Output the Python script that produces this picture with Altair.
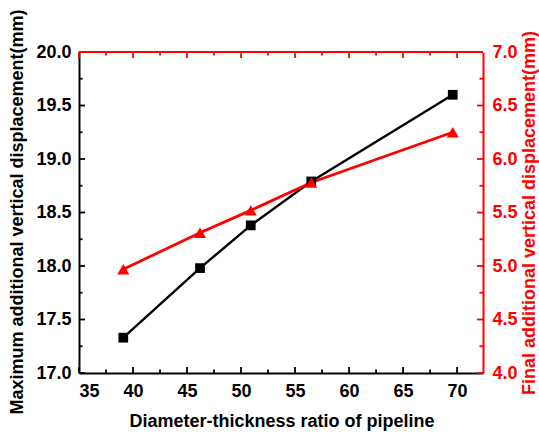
import altair as alt
import pandas as pd

# ---- data ----
ratio = [39.1, 46.2, 50.9, 56.5, 69.6]
max_disp = [17.33, 17.98, 18.38, 18.79, 19.60]
final_disp = [4.97, 5.31, 5.52, 5.78, 6.25]

x_major = [35, 40, 45, 50, 55, 60, 65, 70]
x_minor = [37.5, 42.5, 47.5, 52.5, 57.5, 62.5, 67.5]
left_major = [17.0, 17.5, 18.0, 18.5, 19.0, 19.5, 20.0]
left_minor = [17.25, 17.75, 18.25, 18.75, 19.25, 19.75]
right_major = [4.0, 4.5, 5.0, 5.5, 6.0, 6.5, 7.0]
right_minor = [4.25, 4.75, 5.25, 5.75, 6.25, 6.75]

W, H = 404, 321
FONT = "Liberation Sans"
RED = "#ff0000"

df = pd.DataFrame({"x": ratio, "a": max_disp, "b": final_disp})

xscale = alt.Scale(domain=[35, 72.4], nice=False, zero=False)
lscale = alt.Scale(domain=[17, 20], nice=False, zero=False)
rscale = alt.Scale(domain=[4, 7], nice=False, zero=False)

x_axis = alt.Axis(
    orient="bottom",
    values=x_major, format="d", grid=False, ticks=False,
    domainColor="black", domainWidth=2,
    labelFont=FONT, labelFontSize=18, labelFontWeight="bold", labelColor="black",
    labelPadding=23, labelBaseline="alphabetic",
    title="Diameter-thickness ratio of pipeline",
    titleFont=FONT, titleFontSize=18, titleFontWeight="bold", titleColor="black",
    titleX=202.5, titleY=53, titleBaseline="alphabetic", titleAlign="center",
)
l_axis = alt.Axis(
    orient="left",
    values=left_major, format=".1f", grid=False, ticks=False,
    domainColor="black", domainWidth=2,
    labelFont=FONT, labelFontSize=18, labelFontWeight="bold", labelColor="black",
    labelPadding=8,
    title="Maximum additional vertical displacement(mm)",
    titleFont=FONT, titleFontSize=18, titleFontWeight="bold", titleColor="black",
    titleX=-57, titleY=159.5, titleAngle=270, titleBaseline="alphabetic", titleAlign="center",
)
r_axis = alt.Axis(
    orient="right",
    values=right_major, format=".1f", grid=False, ticks=False,
    domainColor=RED, domainWidth=2,
    labelFont=FONT, labelFontSize=18, labelFontWeight="bold", labelColor=RED,
    labelPadding=9,
    title="Final additional vertical displacement(mm)",
    titleFont=FONT, titleFontSize=18, titleFontWeight="bold", titleColor=RED,
    titleX=51.6, titleY=160.5, titleAngle=270, titleBaseline="alphabetic", titleAlign="center",
)


def X(field):
    return alt.X(field, type="quantitative", scale=xscale, axis=x_axis)


base = alt.Chart(df)

black_line = base.mark_line(color="black", strokeWidth=2.4).encode(
    x=X("x"),
    y=alt.Y("a:Q", scale=lscale, axis=l_axis),
)
black_pts = base.mark_point(shape="square", filled=True, size=95, color="black", opacity=1).encode(
    x=X("x"),
    y=alt.Y("a:Q", scale=lscale, axis=None),
)
red_line = base.mark_line(color=RED, strokeWidth=2.8).encode(
    x=X("x"),
    y=alt.Y("b:Q", scale=rscale, axis=r_axis),
)
red_pts = base.mark_point(shape="triangle-up", filled=True, size=145, color=RED, opacity=1).encode(
    x=X("x"),
    y=alt.Y("b:Q", scale=rscale, axis=None),
)


def bottom_ticks(vals, length):
    return alt.Chart(pd.DataFrame({"x": vals})).mark_rule(color="black", strokeWidth=1.8).encode(
        x=X("x"),
        y=alt.value(H), y2=alt.value(H - length),
    )


def top_ticks(vals, length):
    return alt.Chart(pd.DataFrame({"x": vals})).mark_rule(color=RED, strokeWidth=1.8).encode(
        x=X("x"),
        y=alt.value(0), y2=alt.value(length),
    )


def left_ticks(vals, length):
    return alt.Chart(pd.DataFrame({"v": vals})).mark_rule(color="black", strokeWidth=1.8).encode(
        y=alt.Y("v:Q", scale=lscale, axis=None),
        x=alt.value(0), x2=alt.value(length),
    )


def right_ticks(vals, length):
    return alt.Chart(pd.DataFrame({"v": vals})).mark_rule(color=RED, strokeWidth=1.8).encode(
        y=alt.Y("v:Q", scale=rscale, axis=None),
        x=alt.value(W), x2=alt.value(W - length),
    )


top_border = alt.Chart(pd.DataFrame({"v": [0]})).mark_rule(color=RED, strokeWidth=2).encode(
    x=alt.value(0), x2=alt.value(W), y=alt.value(0),
)

chart = alt.layer(
    black_line, red_line,
    left_ticks(left_major, 6), left_ticks(left_minor, 3.5),
    right_ticks(right_major, 6), right_ticks(right_minor, 3.5),
    bottom_ticks(x_major, 6), bottom_ticks(x_minor, 3.5),
    top_ticks(x_major, 6), top_ticks(x_minor, 3.5),
    top_border,
    black_pts, red_pts,
).resolve_scale(y="independent").properties(
    width=W, height=H,
    autosize=alt.AutoSizeParams(type="none"),
    padding={"left": 79, "top": 52, "right": 56, "bottom": 59},
    background="white",
).configure_view(stroke=None)

chart.save("out.html", embed_options={"renderer": "svg", "actions": False})
